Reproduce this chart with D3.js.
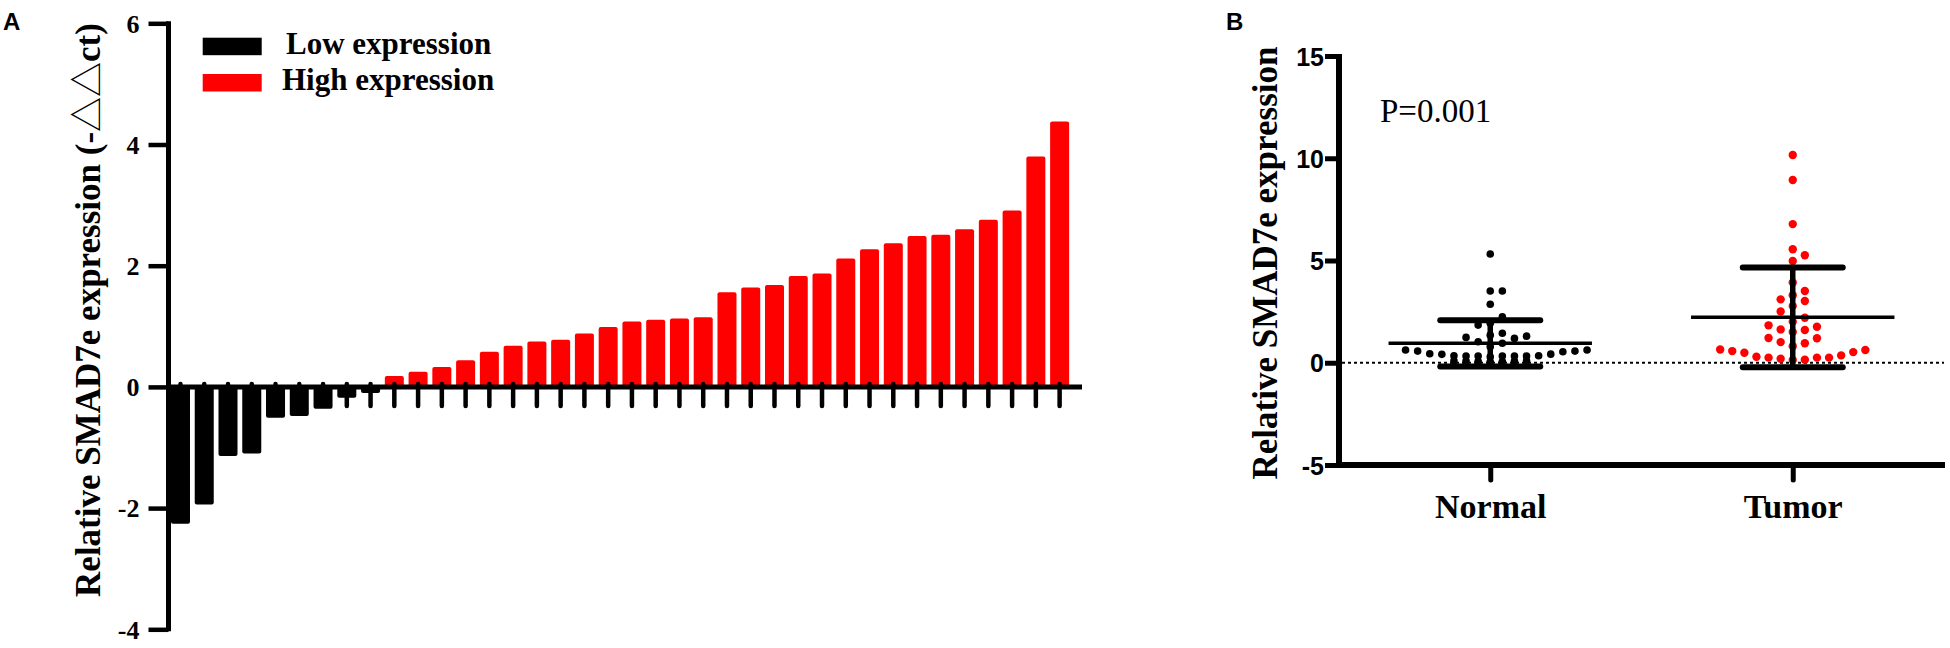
<!DOCTYPE html>
<html><head><meta charset="utf-8">
<script src="https://cdn.jsdelivr.net/npm/d3@7"></script>
<style>body{margin:0;background:#fff}svg{display:block}</style>
</head><body><svg id="c" width="1950" height="648"></svg>
<script>
// ---------- data ----------
const barValues = [-2.26,-1.94,-1.14,-1.10,-0.51,-0.48,-0.36,-0.18,-0.10,
  0.18,0.25,0.33,0.44,0.58,0.68,0.75,0.78,0.88,0.99,1.08,1.11,1.13,1.15,
  1.56,1.64,1.68,1.83,1.87,2.12,2.27,2.37,2.49,2.51,2.60,2.76,2.91,3.80,4.38];
const legendLabels = ["Low expression", "High expression"];
const yTicksA = [-4, -2, 0, 2, 4, 6];
const titleAParts = ["Relative SMAD7e expression (-", "\u25B3\u25B3", "ct)"];

const groups = ["Normal", "Tumor"];
const normalValues = [5.32,3.51,3.51,2.86,2.25,1.93,1.84,1.44,1.35,1.30,1.24,1.19,1.03,0.95,0.78,
  0.62,0.62,0.57,0.57,0.54,0.44,0.42,0.41,0.34,0.34,0.33,0.33,0.33,0.33,0.33,0.29,
  0.10,0.08,0.06,0.05,0.08,0.10,0.07];
const tumorValues = [10.16,8.94,6.78,5.55,5.26,4.98,3.92,3.51,3.30,3.10,3.02,2.77,2.51,2.20,2.01,
  1.83,1.76,1.63,1.60,1.50,1.21,1.20,1.01,0.95,0.81,0.65,0.62,0.57,0.52,0.49,0.36,0.29,
  0.25,0.25,0.25,0.20,0.15,0.13];
const groupMean = [0.95, 2.22];
const groupSD = [1.13, 2.44];
const yTicksB = [-5, 0, 5, 10, 15];
const titleB = "Relative SMAD7e expression";
const pText = "P=0.001";

// ---------- setup ----------
const svg = d3.select("#c");
const SERIF = "'Liberation Serif','Times New Roman',serif";
const SANS = "'Liberation Sans',Arial,sans-serif";
const CJK = "'Noto Sans CJK SC','DejaVu Sans',sans-serif";
const RED = "#ff0000";

// panel labels
svg.append("text").attr("x", 3).attr("y", 30).text("A")
  .style("font-family", SANS).style("font-weight", "bold").style("font-size", "24px");
svg.append("text").attr("x", 1226).attr("y", 30).text("B")
  .style("font-family", SANS).style("font-weight", "bold").style("font-size", "24px");

// ---------- Panel A ----------
const yA = d3.scaleLinear().domain([-4, 6]).range([629.3, 23.3]);
const xA = d3.scaleBand().domain(d3.range(barValues.length))
  .range([168.6, 1071.5]).paddingInner(0.2).paddingOuter(0.1).align(0.5);
const gA = svg.append("g");

gA.selectAll("rect.bar").data(barValues).join("rect")
  .attr("class", "bar")
  .attr("x", (d, i) => xA(i))
  .attr("width", xA.bandwidth())
  .attr("y", d => d >= 0 ? yA(d) : yA(0))
  .attr("height", d => Math.abs(yA(d) - yA(0)))
  .attr("rx", 2)
  .attr("fill", d => d < 0 ? "#000" : RED);

// x axis (A)
const y0 = yA(0);
gA.append("line").attr("x1", 166).attr("x2", 1082).attr("y1", y0).attr("y2", y0)
  .attr("stroke", "#000").attr("stroke-width", 5);
gA.selectAll("line.xt").data(barValues).join("line").attr("class", "xt")
  .attr("x1", (d, i) => xA(i) + xA.bandwidth() / 2)
  .attr("x2", (d, i) => xA(i) + xA.bandwidth() / 2)
  .attr("y1", y0 - 3).attr("y2", y0 + 19)
  .attr("stroke", "#000").attr("stroke-width", 4.5).attr("stroke-linecap", "round");

// y axis (A)
const axA = gA.append("g").attr("transform", "translate(168.5,0)")
  .call(d3.axisLeft(yA).tickValues(yTicksA).tickSize(20).tickSizeOuter(0).tickPadding(9)
    .tickFormat(d3.format("d")));
axA.attr("font-family", null).attr("font-size", null);
axA.select(".domain").attr("stroke-width", 5).attr("d", `M0,${yA(6) - 2}V${yA(-4) + 2}`);
axA.selectAll(".tick line").attr("stroke-width", 4.5);
axA.selectAll(".tick text")
  .style("font-family", SERIF).style("font-weight", "bold").style("font-size", "26px")
  .attr("fill", "#000").attr("dy", "0.34em")
  .text(d => d < 0 ? "-" + Math.abs(d) : d);

// y title (A)
const tA = gA.append("text").attr("transform", "translate(100,310) rotate(-90)")
  .attr("text-anchor", "middle")
  .style("font-family", SERIF).style("font-weight", "bold").style("font-size", "35px");
titleAParts.forEach((t, i) => {
  const ts = tA.append("tspan").text(t);
  if (i === 1) ts.style("font-family", CJK).style("font-weight", "normal");
});

// legend
const legColors = ["#000", RED];
const legY = [37.7, 74];
legendLabels.forEach((lab, i) => {
  gA.append("rect").attr("x", 202.7).attr("y", legY[i]).attr("width", 59).attr("height", 17.5)
    .attr("fill", legColors[i]);
  gA.append("text").attr("x", i === 0 ? 286 : 282).attr("y", legY[i] + 16).text(lab)
    .style("font-family", SERIF).style("font-weight", "bold").style("font-size", "31px");
});

// ---------- Panel B ----------
const yB = d3.scaleLinear().domain([-5, 15]).range([465, 56]);
const xB = d3.scalePoint().domain(groups).range([1339, 1944]).padding(0.5);
const gB = svg.append("g");

// zero dotted line
gB.append("line").attr("x1", 1342).attr("x2", 1944).attr("y1", yB(0)).attr("y2", yB(0))
  .attr("stroke", "#000").attr("stroke-width", 2).attr("stroke-dasharray", "3,3");

// dots laid out in rows
const slotW = 12.1;
function layout(values) {
  const rows = d3.group(values, v => Math.floor((v - 0.12) / 0.6));
  const out = [];
  for (const [, vs] of rows) {
    const s = vs.slice().sort((a, b) => a - b);
    s.forEach((v, k) => {
      const slot = k === 0 ? 0 : (k % 2 === 1 ? (k + 1) / 2 : -k / 2);
      out.push({ v, slot });
    });
  }
  return out;
}
const dotData = [
  { g: groups[0], pts: layout(normalValues), color: "#000", r: 3.8 },
  { g: groups[1], pts: layout(tumorValues), color: RED, r: 4.2 }
];
dotData.forEach(dd => {
  gB.selectAll(null).data(dd.pts).join("circle")
    .attr("cx", p => xB(dd.g) + p.slot * slotW)
    .attr("cy", p => yB(p.v))
    .attr("r", dd.r).attr("fill", dd.color);
});

// mean & SD
groups.forEach((g, i) => {
  const cx = xB(g);
  gB.append("line").attr("x1", cx - 101.7).attr("x2", cx + 101.7)
    .attr("y1", yB(groupMean[i])).attr("y2", yB(groupMean[i]))
    .attr("stroke", "#000").attr("stroke-width", 3.5);
  gB.append("line").attr("x1", cx).attr("x2", cx)
    .attr("y1", yB(groupMean[i] + groupSD[i])).attr("y2", yB(groupMean[i] - groupSD[i]))
    .attr("stroke", "#000").attr("stroke-width", 5.5);
  [groupMean[i] + groupSD[i], groupMean[i] - groupSD[i]].forEach(v => {
    gB.append("line").attr("x1", cx - 50).attr("x2", cx + 50)
      .attr("y1", yB(v)).attr("y2", yB(v))
      .attr("stroke", "#000").attr("stroke-width", 6).attr("stroke-linecap", "round");
  });
});

// axes B
const axBy = gB.append("g").attr("transform", "translate(1339,0)")
  .call(d3.axisLeft(yB).tickValues(yTicksB).tickSize(14).tickSizeOuter(0).tickPadding(1)
    .tickFormat(d3.format("d")));
axBy.attr("font-family", null).attr("font-size", null);
axBy.select(".domain").attr("stroke-width", 6).attr("d", `M0,${yB(15) - 2}V${yB(-5) + 3}`);
axBy.selectAll(".tick line").attr("stroke-width", 5);
axBy.selectAll(".tick text")
  .style("font-family", SANS).style("font-weight", "bold").style("font-size", "25px")
  .attr("fill", "#000").attr("dy", "0.36em")
  .text(d => d < 0 ? "-" + Math.abs(d) : d);

const axBx = gB.append("g").attr("transform", `translate(0,${yB(-5)})`)
  .call(d3.axisBottom(xB).tickSize(15).tickSizeOuter(0).tickPadding(20));
axBx.attr("font-family", null).attr("font-size", null);
axBx.select(".domain").attr("stroke-width", 6).attr("d", "M1336,0H1945");
axBx.selectAll(".tick line").attr("stroke-width", 5).attr("stroke-linecap", "round");
axBx.selectAll(".tick text")
  .style("font-family", SERIF).style("font-weight", "bold").style("font-size", "34px")
  .attr("fill", "#000").attr("dy", "0").attr("y", 53);

// y title (B)
gB.append("text").attr("transform", "translate(1277,263) rotate(-90)")
  .attr("text-anchor", "middle").text(titleB)
  .style("font-family", SERIF).style("font-weight", "bold").style("font-size", "35px");

// p value
gB.append("text").attr("x", 1380).attr("y", 121.7).text(pText)
  .style("font-family", SERIF).style("font-size", "33px");
</script>
</body></html>
